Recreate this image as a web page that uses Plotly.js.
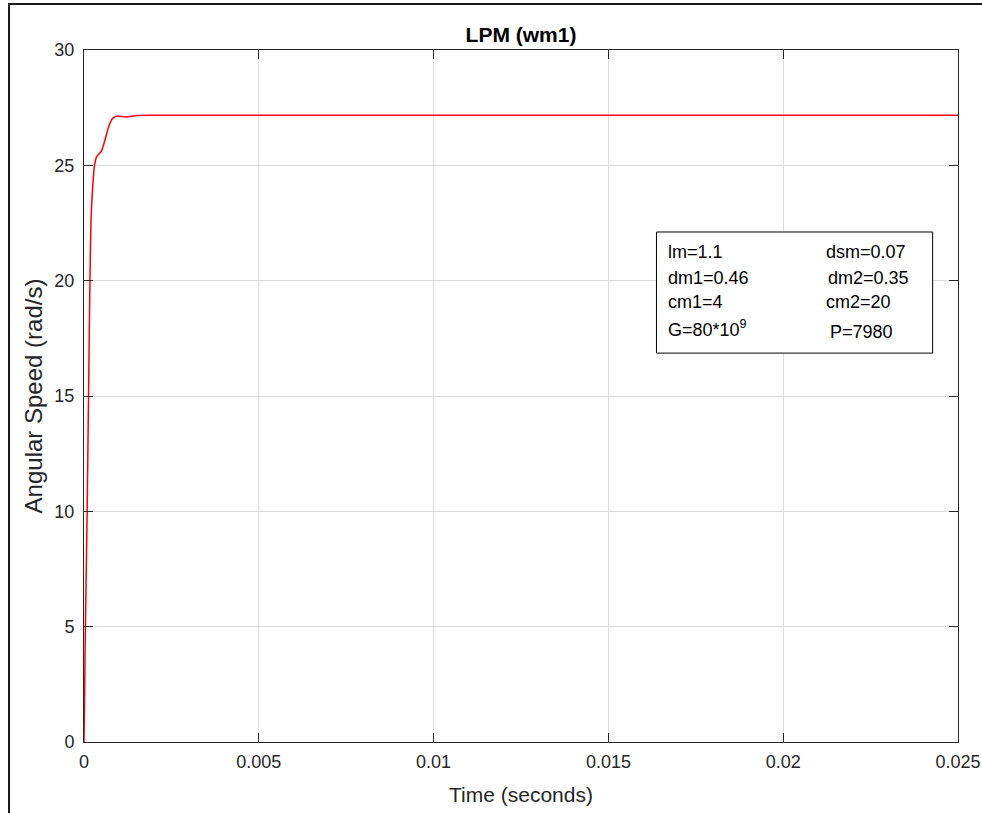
<!DOCTYPE html>
<html>
<head>
<meta charset="utf-8">
<script src="https://cdn.plot.ly/plotly-3.0.1.min.js"></script>
<style>
  html, body { margin: 0; padding: 0; background: #fff; }
  #wrap { position: relative; width: 982px; height: 813px; }
  #chart { position: absolute; left: 0; top: 0; width: 982px; height: 813px; }
  .frameTop { position: absolute; left: 8px; top: 3px; width: 974px; height: 2px; background: #1a1a1a; }
  .frameLeft { position: absolute; left: 8px; top: 3px; width: 2px; height: 810px; background: #1a1a1a; }
</style>
</head>
<body>
<div id="wrap">
  <div id="chart"></div>
  <div class="frameTop"></div>
  <div class="frameLeft"></div>
</div>
<script>
// Time (s)
const timeS = [0, 0.00004, 0.00009, 0.00013, 0.00017, 0.0002, 0.00025, 0.0003, 0.00036, 0.00042,
  0.0005, 0.0006, 0.0007, 0.0008, 0.0009, 0.001, 0.0012, 0.0015, 0.002, 0.005, 0.01, 0.015, 0.02, 0.025];
// Angular speed wm1 (rad/s)
const speed = [0, 5, 10, 15, 20, 22.6, 24.1, 25.0, 25.37, 25.48,
  25.62, 26.1, 26.65, 27.0, 27.12, 27.13, 27.1, 27.16, 27.17, 27.17, 27.17, 27.17, 27.17, 27.17];

const xTicks = [0, 0.005, 0.01, 0.015, 0.02, 0.025];
const xTickText = ["0", "0.005", "0.01", "0.015", "0.02", "0.025"];
const yTicks = [0, 5, 10, 15, 20, 25, 30];

const paramLeft = ["lm=1.1", "dm1=0.46", "cm1=4", "G=80*10<sup>9</sup>"];
const paramRight = ["dsm=0.07", "dm2=0.35", "cm2=20", "P=7980"];

const FONT = "Liberation Sans, Arial, Helvetica, sans-serif";
const TXT = "#262626";

const rowY = [0.708, 0.671, 0.636, 0.598];
const annotations = [];
paramLeft.forEach((t, i) => annotations.push({
  xref: "paper", yref: "paper", x: 0.666, y: rowY[i], xanchor: "left", yanchor: "middle",
  text: t, showarrow: false, font: {family: FONT, size: 18, color: "#000"}
}));
paramRight.forEach((t, i) => annotations.push({
  xref: "paper", yref: "paper", x: (i === 3 ? 0.851 : (i === 1 ? 0.849 : 0.847)), y: rowY[i] - (i === 3 ? 0.006 : 0), xanchor: "left", yanchor: "middle",
  text: t, showarrow: false, font: {family: FONT, size: 18, color: "#000"}
}));

const axisCommon = {
  showline: true, linecolor: TXT, linewidth: 1, mirror: "ticks",
  ticks: "inside", ticklen: 9, tickwidth: 1, tickcolor: TXT,
  showgrid: true, gridcolor: "#dcdcdc", gridwidth: 1, zeroline: false,
  tickfont: {family: FONT, size: 18, color: TXT}
};

const layout = {
  width: 982, height: 813,
  margin: {l: 84, r: 24, t: 50, b: 71},
  paper_bgcolor: "#ffffff", plot_bgcolor: "#ffffff",
  showlegend: false,
  title: {text: "<b>LPM (wm1)</b>", font: {family: FONT, size: 21, color: "#000"},
    x: 0.5 + (84 - 24) / 2 / 982, xanchor: "center", y: 0.957, yanchor: "middle"},
  xaxis: Object.assign({}, axisCommon, {
    range: [0, 0.025], tickvals: xTicks, ticktext: xTickText, ticklabelstandoff: 3,
    title: {text: "Time (seconds)", font: {family: FONT, size: 21, color: TXT}, standoff: 16}
  }),
  yaxis: Object.assign({}, axisCommon, {
    range: [0, 30], tickvals: yTicks, ticklabelstandoff: 5,
    title: {text: "Angular Speed (rad/s)", font: {family: FONT, size: 24, color: TXT}, standoff: 4}
  }),
  shapes: [{
    type: "rect", xref: "paper", yref: "paper",
    x0: 0.655, x1: 0.971, y0: 0.562, y1: 0.737,
    line: {color: "#000", width: 1}, fillcolor: "#ffffff", layer: "above"
  }],
  annotations: annotations
};

Plotly.newPlot("chart", [{
  x: timeS, y: speed, type: "scatter", mode: "lines",
  line: {color: "#ff0000", width: 1.5, shape: "spline", smoothing: 0.5}
}], layout, {displayModeBar: false, staticPlot: true});
</script>
</body>
</html>
